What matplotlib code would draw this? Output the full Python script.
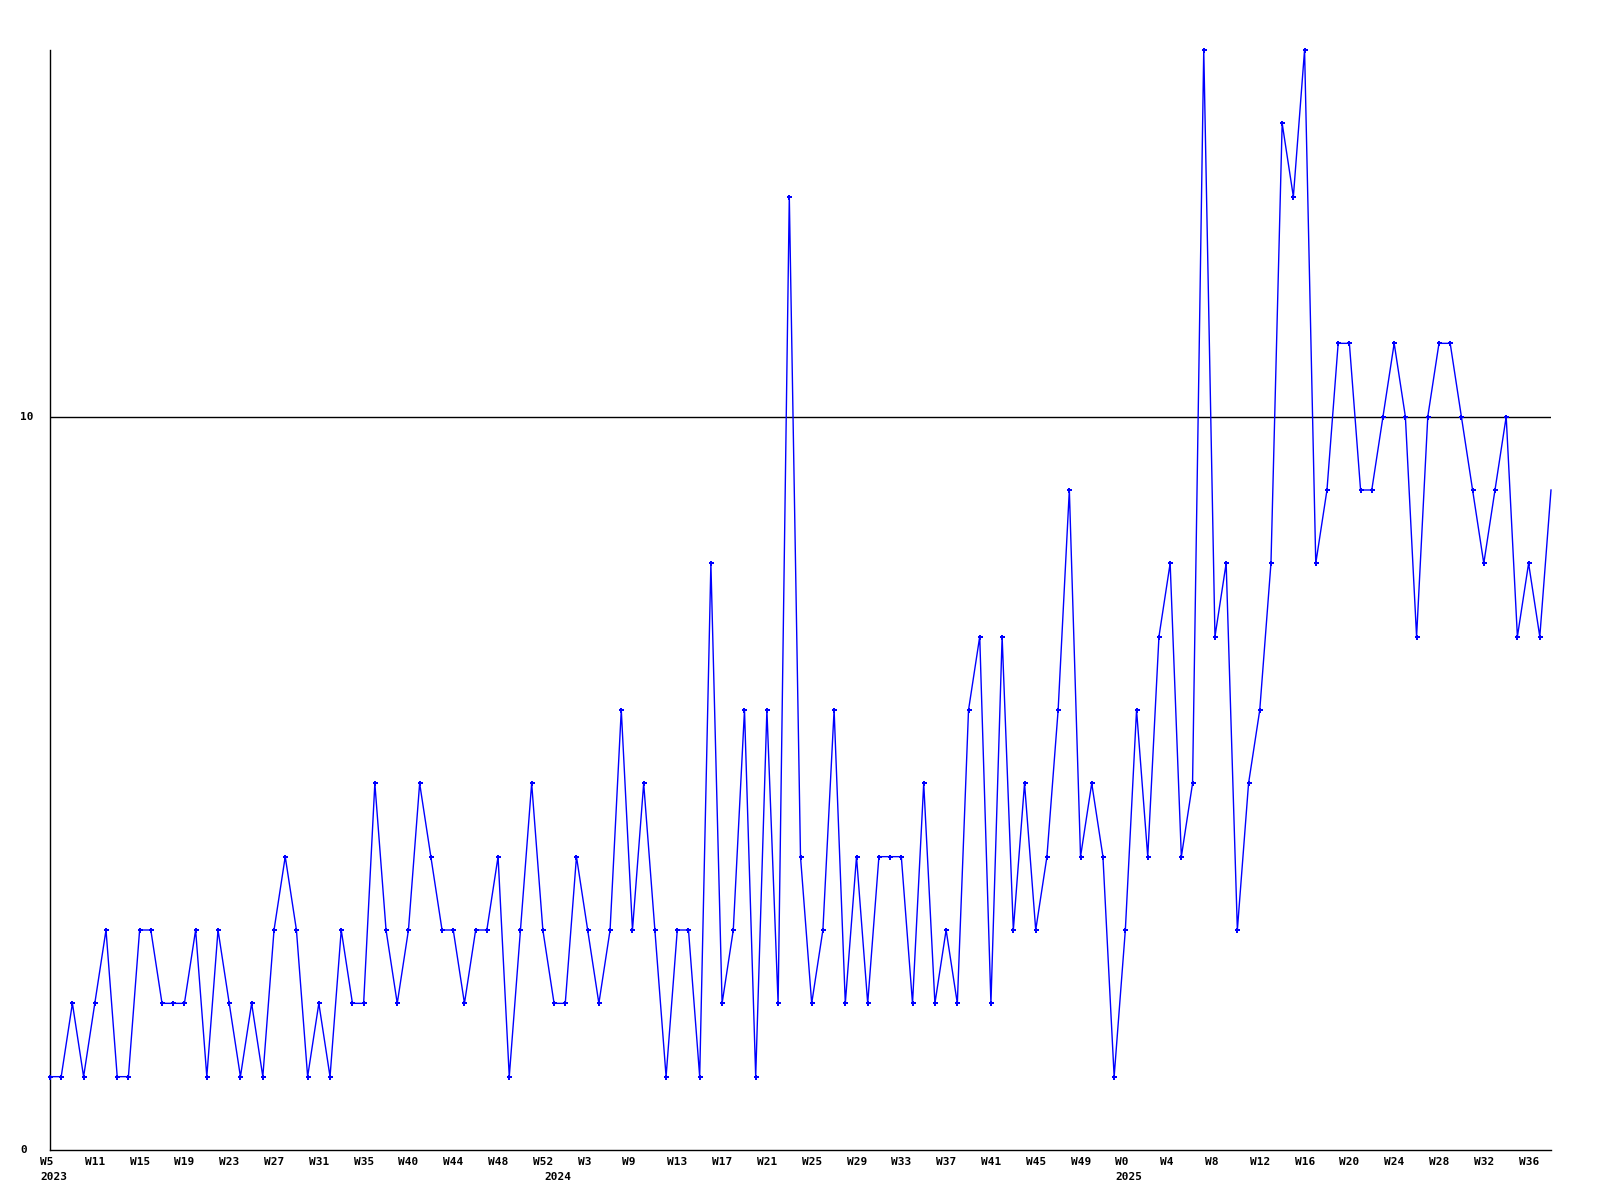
import matplotlib
matplotlib.use('Agg')
import matplotlib.pyplot as plt

# weekly counts, W5 2023 .. W38 2025
values = [
    1, 1, 2, 1, 2, 3, 1, 1, 3, 3, 2, 2, 2, 3, 1, 3, 2, 1, 2, 1,
    3, 4, 3, 1, 2, 1, 3, 2, 2, 5, 3, 2, 3, 5, 4, 3, 3, 2, 3, 3,
    4, 1, 3, 5, 3, 2, 2, 4, 3, 2, 3, 6, 3, 5, 3, 1, 3, 3, 1, 8,
    2, 3, 6, 1, 6, 2, 13, 4, 2, 3, 6, 2, 4, 2, 4, 4, 4, 2, 5, 2,
    3, 2, 6, 7, 2, 7, 3, 5, 3, 4, 6, 9, 4, 5, 4, 1, 3, 6, 4, 7,
    8, 4, 5, 15, 7, 8, 3, 5, 6, 8, 14, 13, 15, 8, 9, 11, 11, 9, 9, 10,
    11, 10, 7, 10, 11, 11, 10, 9, 8, 9, 10, 7, 8, 7, 9,
]

week_labels = ['W5', 'W11', 'W15', 'W19', 'W23', 'W27', 'W31', 'W35', 'W40',
               'W44', 'W48', 'W52', 'W3', 'W9', 'W13', 'W17', 'W21', 'W25',
               'W29', 'W33', 'W37', 'W41', 'W45', 'W49', 'W0', 'W4', 'W8',
               'W12', 'W16', 'W20', 'W24', 'W28', 'W32', 'W36']
year_labels = ['2023', '2024', '2025']
year_pos = [0, 45, 96]
y_labels = ['0', '10']
y_pos = [0, 10]

dpi = 100
px = 72.0 / dpi  # one pixel in points
font = dict(family='DejaVu Sans Mono', fontweight='bold', fontsize=8)

fig = plt.figure(figsize=(16, 12), dpi=dpi)
ax = fig.add_axes([50 / 1600, 50 / 1200, 1501 / 1600, 1100 / 1200])

x = list(range(len(values)))
# last (current, partial) week has no marker in the original
ax.plot(x, values, color='#0000ff', lw=1.0, marker='P', ms=3.6, mew=0,
        markevery=list(range(len(values) - 1)), clip_on=False, zorder=3)
ax.axhline(10, color='black', lw=1.0, zorder=2)

ax.set_xlim(0, len(values) - 1)
ax.set_ylim(0, 15)
ax.set_xticks([])
ax.set_yticks([])
for s in ['top', 'right']:
    ax.spines[s].set_visible(False)
for s in ['left', 'bottom']:
    ax.spines[s].set_linewidth(1.0)
    ax.spines[s].set_color('black')

for i, lab in enumerate(week_labels):
    ax.annotate(lab, (i * 4, 0), xycoords=('data', 'axes fraction'),
                xytext=(-10 * px, -12 * px), textcoords='offset points',
                ha='left', va='center', **font)
for p, lab in zip(year_pos, year_labels):
    ax.annotate(lab, (p, 0), xycoords=('data', 'axes fraction'),
                xytext=(-10 * px, -27.5 * px), textcoords='offset points',
                ha='left', va='center', **font)
for p, lab in zip(y_pos, y_labels):
    ax.annotate(lab, (0, p), xycoords=('axes fraction', 'data'),
                xytext=(-30 * px, 0), textcoords='offset points',
                ha='left', va='center', **font)

plt.savefig('out.png', dpi=dpi)
